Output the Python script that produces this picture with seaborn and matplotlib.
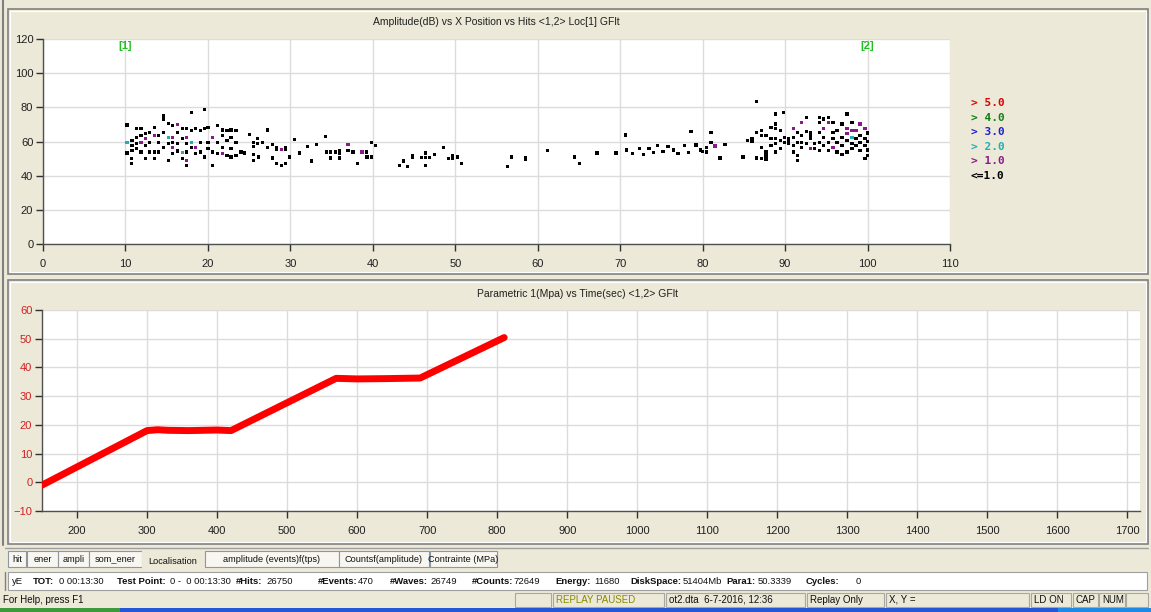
import numpy as np
import pandas as pd
import matplotlib
matplotlib.use("Agg")
import matplotlib.pyplot as plt
import seaborn as sns
from matplotlib.patches import Rectangle
from matplotlib.lines import Line2D
from matplotlib.transforms import Affine2D

# ---------------- data ----------------
# hits with amplitude class "<=1.0" (black)
x_le1 = [10.2, 10.2, 10.7, 10.7, 11.3, 11.9, 11.3, 11.3, 11.3, 10.8, 10.8, 10.8, 11.9, 11.9,
         12.4, 12.4, 12.4, 12.9, 12.9, 12.9, 13.5, 13.5, 13.5, 14.0, 14.0, 14.0, 14.6, 14.6, 14.6, 14.6,
         15.2, 15.2, 15.2, 15.7, 15.7, 15.7, 16.3, 16.3, 16.3, 16.9, 16.9, 16.9, 17.4, 17.4, 17.4, 17.4,
         18.0, 18.0, 18.0, 18.5, 18.5, 19.1, 19.1, 19.1, 19.6, 19.6, 19.6, 20.0, 20.0, 20.0, 20.6, 20.6,
         21.2, 21.2, 21.2, 21.8, 21.8, 21.8, 22.3, 22.3, 22.3, 22.8, 22.8, 22.8, 22.8, 23.4, 23.4, 23.4, 24.0,
         24.4, 25.0, 25.5, 25.5, 25.5, 25.5, 26.0, 26.0, 26.1, 26.6, 27.2, 27.2, 27.8, 27.8, 28.3, 28.3, 28.3,
         28.9, 29.4, 29.4, 29.4, 29.9, 30.5, 31.1, 32.1, 32.6, 33.2, 34.3, 34.4, 34.9, 34.9, 35.5, 36.0, 36.0,
         36.0, 37.0, 37.6, 38.1, 39.2, 39.2,
         39.3, 39.8, 39.8, 40.3, 43.2, 43.7, 44.2, 44.8, 44.8, 45.9, 46.4, 46.4, 46.4, 46.9, 47.5, 48.6, 49.2,
         49.7, 49.7, 50.3, 50.8,
         56.3, 56.8, 58.5, 58.5, 61.2, 64.5, 65.1, 67.2, 69.5,
         70.6, 70.8, 71.5, 72.3, 72.8, 73.5, 74.0, 74.5, 75.2, 75.8, 76.5, 77.0, 77.8, 78.3, 78.6, 79.2, 79.7, 80.0,
         80.5, 80.5, 81.0, 81.0, 82.1, 82.7, 84.9, 85.4, 86.0, 86.0, 86.5, 86.5, 86.5, 87.1, 87.1, 87.1, 87.1,
         87.7, 87.7, 87.7, 87.7, 87.7, 88.3, 88.3, 88.3, 88.8, 88.8, 88.8, 88.8, 88.8, 88.8, 89.4, 89.4, 89.4,
         89.8, 89.9, 89.9, 90.4, 90.4, 90.4, 91.0, 91.0, 91.0, 91.5, 91.5, 91.5, 91.5, 92.0, 92.0, 92.0,
         92.6, 92.6, 92.6, 93.1, 93.1, 93.1, 93.6, 93.6, 94.2, 94.2, 94.2, 94.2, 94.2, 94.7, 94.7, 94.7,
         95.3, 95.3, 95.3, 95.8, 95.8, 95.8, 96.3, 96.3, 96.3, 96.9, 96.9, 96.9, 96.9, 97.5, 97.5, 97.5,
         98.1, 98.1, 98.1, 98.6, 98.6, 99.1, 99.1, 99.1, 99.7, 99.7, 99.7, 100.0, 100.0, 100.0, 100.0]
y_le1 = [69.7, 53.2, 50.0, 47.0, 67.4, 67.4, 62.5, 58.7, 55.8, 60.6, 57.7, 54.8, 63.5, 53.8,
         64.5, 57.7, 50.0, 65.4, 59.6, 53.8, 68.4, 53.8, 50.0, 63.5, 59.6, 53.8, 75.1, 73.2, 65.4, 56.7,
         70.7, 58.7, 49.0, 69.3, 59.6, 52.8, 65.4, 58.7, 54.4, 67.4, 61.6, 50.0, 67.4, 58.7, 53.8, 46.0,
         77.1, 66.4, 56.7, 67.4, 52.8, 66.4, 59.6, 53.8, 78.6, 67.4, 51.0, 68.4, 59.6, 55.7, 53.8, 46.0,
         69.3, 59.6, 52.8, 66.8, 63.5, 56.7, 66.4, 60.6, 51.9, 66.8, 62.5, 55.7, 50.9, 66.4, 59.6, 51.9, 53.8,
         53.2, 63.9, 59.6, 57.1, 52.3, 49.0, 61.6, 59.0, 50.9, 59.6, 66.8, 56.7, 58.3, 50.3, 56.7, 55.2, 47.0,
         46.0, 56.7, 55.2, 47.0, 50.9, 61.2, 53.2, 57.1, 48.6, 58.1, 62.9, 53.8, 53.8, 50.3, 53.8, 54.8, 53.2,
         50.3, 54.8, 53.8, 47.0, 53.8, 50.9,
         50.9, 50.9, 59.6, 57.7, 46.0, 48.6, 45.5, 51.9, 50.5, 50.5, 53.2, 50.5, 46.0, 50.5, 52.3, 56.7, 50.1,
         51.9, 50.3, 50.9, 47.0,
         45.5, 50.9, 50.3, 49.4, 54.8, 50.9, 47.0, 53.2, 53.2,
         63.8, 55.0, 53.0, 55.7, 52.5, 55.7, 53.5, 57.5, 54.0, 57.0, 55.0, 53.0, 57.5, 53.5, 66.0, 58.0, 55.0, 54.0,
         56.7, 53.8, 65.4, 59.2, 50.3, 58.1, 50.9, 60.6, 61.6, 60.0, 83.3, 65.4, 50.3, 66.4, 63.5, 56.7, 49.9,
         63.5, 53.8, 52.3, 50.9, 49.5, 68.4, 61.6, 57.7, 76.1, 70.3, 67.4, 61.6, 58.7, 53.8, 66.4, 60.6, 55.7,
         77.1, 62.5, 59.6, 61.6, 60.0, 58.7, 62.5, 57.7, 53.8, 65.4, 59.6, 51.9, 49.0, 63.5, 59.6, 56.7,
         74.2, 66.0, 58.7, 65.4, 63.5, 61.6, 58.7, 55.7, 74.2, 71.3, 65.4, 59.6, 54.8, 73.2, 62.5, 57.7,
         74.2, 59.6, 54.8, 71.3, 65.4, 61.6, 66.4, 59.6, 53.8, 70.3, 62.5, 57.7, 52.3, 76.1, 60.6, 53.8,
         71.3, 58.7, 55.7, 61.6, 57.7, 63.5, 59.6, 54.8, 61.6, 57.7, 49.9, 65.0, 60.0, 55.0, 52.0]
# hits with amplitude class "> 1.0" (purple)
x_gt1 = [11.9, 12.4, 13.5, 15.7, 15.7, 16.3, 17.4, 17.4, 18.5, 20.6, 21.8, 28.9, 37.0, 38.7,
         81.5, 91.0, 92.0, 93.1, 94.7, 95.3, 95.8, 97.5, 97.5, 98.1, 98.6, 99.1, 99.7]
y_gt1 = [59.6, 61.6, 63.5, 62.5, 56.7, 69.9, 62.5, 49.0, 56.7, 62.5, 52.8, 55.2, 58.1, 53.8,
         57.3, 67.4, 71.3, 55.7, 67.4, 71.3, 56.7, 67.4, 64.5, 66.4, 66.4, 70.3, 67.4]
# hits with amplitude class "> 2.0" (cyan)
x_gt2 = [10.2, 15.2, 16.9, 18.0, 98.1]
y_gt2 = [59.6, 62.5, 53.4, 59.6, 62.5]

hit_levels = ["> 5.0", "> 4.0", "> 3.0", "> 2.0", "> 1.0", "<=1.0"]
level_colors = ["#E00000", "#108010", "#2020D0", "#20B0B0", "#8A1A8A", "#000000"]

# parametric 1 (MPa) vs time (sec)
time_sec = [150, 300, 315, 330, 360, 400, 420, 570, 600, 640, 690, 810]
stress_mpa = [-1.0, 18.0, 18.3, 18.1, 18.0, 18.2, 18.0, 36.2, 36.0, 36.1, 36.3, 50.4]

top_xticks = list(range(0, 111, 10))
top_yticks = list(range(0, 121, 20))
bot_xticks = list(range(200, 1701, 100))
bot_yticks = list(range(-10, 61, 10))

# ---------------- figure ----------------
sns.set_theme(style="white")
plt.rcParams["font.family"] = ["Liberation Sans", "DejaVu Sans"]

W, H = 1151, 612
BG = "#ECE9D8"
fig = plt.figure(figsize=(W / 100, H / 100), dpi=100, facecolor=BG)
pix = Affine2D().scale(1.0 / W, -1.0 / H).translate(0, 1) + fig.transFigure


def prect(x0, y0, x1, y1, **kw):
    r = Rectangle((x0, y0), x1 - x0, y1 - y0, transform=pix, **kw)
    fig.patches.append(r)
    return r


def pline(xs, ys, **kw):
    fig.lines.append(Line2D(xs, ys, transform=pix, **kw))


def ptext(x, y, s, **kw):
    kw.setdefault("va", "center")
    kw.setdefault("ha", "left")
    fig.text(x, y, s, transform=pix, **kw)


# window frames
pline([3, 3], [0, 545], color="#808080", lw=1.5)
prect(8, 9, 1148, 274, fill=False, edgecolor="#808080", lw=1.2)
prect(10, 11, 1146, 272, fill=False, edgecolor="#FFFFFF", lw=0.8)
prect(8, 280, 1148, 544, fill=False, edgecolor="#808080", lw=1.2)
prect(10, 282, 1146, 542, fill=False, edgecolor="#FFFFFF", lw=0.8)


def style_axes(ax, ylabel_color):
    ax.set_facecolor("white")
    ax.grid(True, color="#DCDCDC", lw=1)
    ax.set_axisbelow(True)
    for s in ["top", "right"]:
        ax.spines[s].set_visible(False)
    for s in ["left", "bottom"]:
        ax.spines[s].set_color("#505050")
        ax.spines[s].set_linewidth(1)
    ax.tick_params(axis="both", direction="out", length=5, width=1, color="#303030",
                   labelsize=8, pad=6, bottom=True, left=True)
    ax.tick_params(axis="x", labelcolor="#202020")
    ax.tick_params(axis="y", labelcolor=ylabel_color, pad=2)
    ax.set_xlabel("")
    ax.set_ylabel("")


# ---- top: amplitude vs x position ----
ax1 = fig.add_axes([43 / W, 1 - 244 / H, (950 - 43) / W, (244 - 39) / H])
df_hits = pd.DataFrame({
    "x": x_le1 + x_gt1 + x_gt2,
    "amp": y_le1 + y_gt1 + y_gt2,
    "level": ["<=1.0"] * len(x_le1) + ["> 1.0"] * len(x_gt1) + ["> 2.0"] * len(x_gt2),
})
palette = dict(zip(hit_levels, level_colors))
sns.scatterplot(data=df_hits, x="x", y="amp", hue="level", palette=palette, marker="s",
                s=5.5, linewidth=0, legend=False, ax=ax1, zorder=3)
ax1.set_xlim(0, 110)
ax1.set_ylim(0, 120)
ax1.set_xticks(top_xticks)
ax1.set_yticks(top_yticks)
style_axes(ax1, "#202020")
ax1.text(10, 116, "[1]", color="#20C020", fontsize=8, fontweight="bold", ha="center", va="center")
ax1.text(100, 116, "[2]", color="#20C020", fontsize=8, fontweight="bold", ha="center", va="center")
ptext(496, 22, "Amplitude(dB) vs X Position vs Hits <1,2> Loc[1] GFlt", fontsize=7.5,
      ha="center", color="#202020")

# legend of hit classes
for i, (lab, col) in enumerate(zip(hit_levels, level_colors)):
    ptext(971, 103 + i * 14.6, lab, color=col, fontsize=8, fontweight="bold",
          family="DejaVu Sans Mono")

# ---- bottom: parametric vs time ----
ax2 = fig.add_axes([42 / W, 1 - 511 / H, (1140 - 42) / W, (511 - 310) / H])
df_par = pd.DataFrame({"t": time_sec, "p": stress_mpa})
sns.lineplot(data=df_par, x="t", y="p", sort=False, color="#FF0000", lw=5, ax=ax2,
             solid_capstyle="round", zorder=3)
ax2.set_xlim(150, 1718)
ax2.set_ylim(-10, 60)
ax2.set_xticks(bot_xticks)
ax2.set_yticks(bot_yticks)
style_axes(ax2, "#D02020")
ptext(578, 294, "Parametric 1(Mpa) vs Time(sec) <1,2> GFlt", fontsize=7.5, ha="center",
      color="#202020")

# ---- tabs ----
pline([5, 1148], [548, 548], color="#A0A0A0", lw=1)
tabs = [("hit", 8, 26), ("ener", 27, 58), ("ampli", 58, 89), ("som_ener", 89, 142),
        ("Localisation", 142, 204), ("amplitude (events)f(tps)", 205, 339),
        ("Countsf(amplitude)", 339, 429), ("Contrainte (MPa)", 430, 497)]
for name, x0, x1 in tabs:
    if name == "Localisation":
        prect(x0, 551, x1, 569, facecolor=BG, edgecolor="none")
        ptext((x0 + x1) / 2, 561, name, fontsize=6.6, ha="center", color="#101010")
    else:
        prect(x0, 551, x1, 567, facecolor="#F7F6F1", edgecolor="#8C97A0", lw=0.8)
        ptext((x0 + x1) / 2, 559, name, fontsize=6.6, ha="center", color="#101010")

# ---- status line ----
prect(8, 572, 1147, 590, facecolor="white", edgecolor="#A0A0A0", lw=0.8)
pline([5, 5], [572, 590], color="#808080", lw=1)
status = [("yE", False, 12), ("TOT:", True, 33), ("0 00:13:30", False, 59),
          ("Test Point:", True, 117), ("0 -  0 00:13:30", False, 170), ("#Hits:", True, 236),
          ("26750", False, 266), ("#Events:", True, 318), ("470", False, 358),
          ("#Waves:", True, 390), ("26749", False, 430), ("#Counts:", True, 472),
          ("72649", False, 513), ("Energy:", True, 555), ("11680", False, 594),
          ("DiskSpace:", True, 630), ("51404Mb", False, 683), ("Para1:", True, 726),
          ("50.3339", False, 758), ("Cycles:", True, 806), ("0", False, 856)]
for s, b, x in status:
    ptext(x, 581, s, fontsize=6.8, fontweight="bold" if b else "normal", color="#101010")

# ---- status bar ----
ptext(3, 600, "For Help, press F1", fontsize=7, color="#101010")
boxes = [("", 515, 551, "#101010"), ("REPLAY PAUSED", 553, 664, "#8A8A00"),
         ("ot2.dta  6-7-2016, 12:36", 666, 805, "#101010"), ("Replay Only", 807, 884, "#101010"),
         ("X, Y =", 886, 1029, "#101010"), ("LD ON", 1031, 1071, "#101010"),
         ("CAP", 1073, 1098, "#101010"), ("NUM", 1099, 1125, "#101010"), ("", 1126, 1148, "#101010")]
for s, x0, x1, c in boxes:
    prect(x0, 593, x1, 607, fill=False, edgecolor="#A8A8A0", lw=0.8)
    if s:
        ptext(x0 + 3, 600, s, fontsize=7, color=c)

# taskbar strip
prect(0, 608, 120, 612, facecolor="#3C9A3C", edgecolor="none")
prect(120, 608, 1058, 612, facecolor="#2456D8", edgecolor="none")
prect(1058, 608, 1151, 612, facecolor="#1C8AE6", edgecolor="none")

fig.savefig("out.png", dpi=100, facecolor=BG)
